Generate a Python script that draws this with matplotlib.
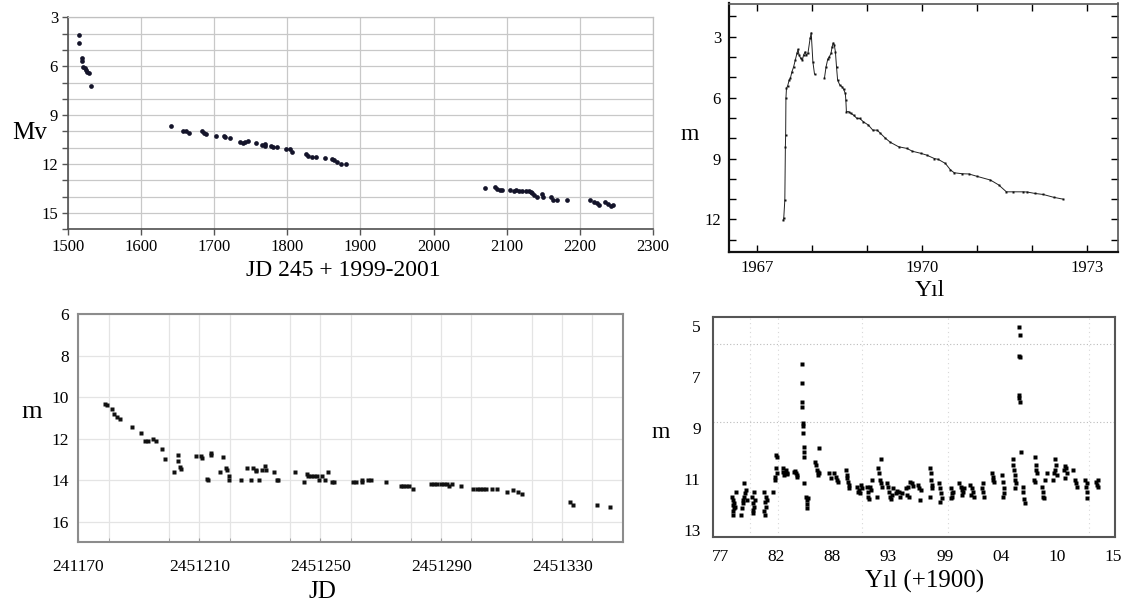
import numpy as np
import matplotlib.pyplot as plt
from matplotlib.ticker import FixedLocator, MultipleLocator

plt.rcParams['font.family'] = ['Liberation Serif', 'DejaVu Serif']

W, H = 1130, 605

# ---- sol ust: JD 245 + (1999-2001), mutlak parlaklik Mv
jd1 = [1515, 1516, 1520, 1520, 1521, 1523, 1525, 1527, 1529, 1532,
       1641, 1657, 1662, 1666, 1683, 1686, 1689, 1703, 1713, 1715, 1722,
       1736, 1739, 1742, 1746, 1757, 1765, 1769, 1770, 1778, 1781, 1786,
       1799, 1804, 1807, 1826, 1829, 1834, 1839, 1852, 1861, 1864, 1868,
       1874, 1880,
       2071, 2084, 2087, 2091, 2094, 2105, 2110, 2113, 2117, 2121, 2126,
       2130, 2133, 2135, 2138, 2142, 2148, 2149, 2160, 2163, 2169, 2182,
       2214, 2220, 2223, 2226, 2235, 2239, 2242, 2245]
mv1 = [4.09, 4.6, 5.5, 5.7, 6.03, 6.13, 6.23, 6.33, 6.44, 7.2,
       9.69, 9.98, 10.0, 10.1, 10.0, 10.1, 10.18, 10.26, 10.28, 10.36, 10.39,
       10.63, 10.68, 10.65, 10.61, 10.73, 10.8, 10.75, 10.9, 10.9, 10.94, 10.96,
       11.06, 11.1, 11.27, 11.4, 11.5, 11.55, 11.55, 11.6, 11.67, 11.75, 11.9,
       12.0, 12.0,
       13.47, 13.39, 13.5, 13.6, 13.6, 13.6, 13.66, 13.6, 13.66, 13.64, 13.66,
       13.64, 13.7, 13.8, 13.9, 14.0, 13.86, 14.0, 14.0, 14.2, 14.23, 14.2,
       14.2, 14.3, 14.4, 14.5, 14.3, 14.45, 14.56, 14.53]

# ---- sag ust: 1967-1973 isik egrisi (nan = gozlem boslugu)
yil2 = [1967.47, 1967.48, 1967.50, 1967.51, 1967.515, 1967.52, 1967.53, 1967.55,
        1967.58, 1967.60, 1967.63, 1967.66, 1967.69, 1967.72, 1967.74, 1967.76,
        1967.79, 1967.82, 1967.84, 1967.87, 1967.89, 1967.92, 1967.96, 1967.98,
        1968.01, 1968.04, np.nan,
        1968.22, 1968.25, 1968.28, 1968.31, 1968.34, 1968.36, 1968.38, 1968.40,
        1968.42, 1968.44, 1968.46, 1968.50, 1968.54, 1968.57, 1968.60, 1968.61,
        1968.62, 1968.66, 1968.70, 1968.75, 1968.81, 1968.86, 1968.93, 1969.02,
        1969.10, 1969.18, 1969.24, 1969.33, 1969.42, 1969.57, 1969.72, 1969.82,
        1969.97, 1970.08, 1970.22, 1970.29, 1970.42, 1970.51, 1970.58, 1970.73,
        1970.85, 1971.00, 1971.24, 1971.39, 1971.53, 1971.65, 1971.83, 1971.91,
        1972.05, 1972.20, 1972.39, 1972.56]
m2 = [12.03, 11.95, 11.04, 8.42, 7.84, 6.03, 5.54, 5.43,
      5.13, 5.05, 4.72, 4.48, 4.15, 3.82, 3.62, 3.90,
      4.07, 4.15, 3.90, 3.74, 3.90, 3.82, 3.08, 2.80,
      4.23, 4.84, np.nan,
      5.05, 4.48, 4.11, 3.98, 3.82, 3.49, 3.30, 3.41,
      3.74, 4.48, 5.13, 5.38, 5.46, 5.59, 5.79, 6.12,
      6.69, 6.69, 6.77, 6.86, 7.02, 7.02, 7.19, 7.35,
      7.60, 7.60, 7.76, 8.00, 8.20, 8.42, 8.50, 8.64,
      8.74, 8.83, 9.00, 9.04, 9.24, 9.55, 9.70, 9.75,
      9.76, 9.88, 10.06, 10.30, 10.64, 10.64, 10.64, 10.65,
      10.72, 10.77, 10.91, 11.00]

# ---- sol alt: JD 2451170 - 2451350
jd3 = [2451178.8, 2451179.6, 2451181.0, 2451181.9, 2451182.9, 2451183.8,
       2451187.9, 2451190.8, 2451192.0, 2451192.9, 2451194.8, 2451195.7,
       2451197.8, 2451198.7, 2451201.7, 2451202.9, 2451202.9, 2451203.6,
       2451203.9, 2451208.9, 2451210.6, 2451210.8, 2451212.6, 2451213.0,
       2451213.8, 2451213.8, 2451216.8, 2451217.7, 2451218.8, 2451219.3,
       2451219.9, 2451219.9, 2451223.7, 2451225.9, 2451227.0, 2451227.9,
       2451228.6, 2451228.7, 2451229.8, 2451230.9, 2451231.7, 2451232.0,
       2451234.7, 2451235.6, 2451236.1, 2451241.6, 2451244.6, 2451245.5,
       2451246.0, 2451246.9, 2451247.9, 2451248.8, 2451249.7, 2451250.5,
       2451251.6, 2451252.6, 2451253.8, 2451254.6,
       2451260.7, 2451261.7, 2451263.7, 2451263.9, 2451265.9, 2451266.8,
       2451271.7, 2451276.6, 2451277.4, 2451278.3, 2451279.3, 2451280.7,
       2451286.5, 2451287.6, 2451288.7, 2451289.8, 2451290.9, 2451291.8,
       2451292.7, 2451293.5, 2451296.7, 2451300.6, 2451301.7, 2451302.8,
       2451303.7, 2451304.7, 2451306.7, 2451308.5, 2451311.6, 2451313.6,
       2451315.5, 2451316.6, 2451332.5, 2451333.6, 2451341.6, 2451345.8]
m3 = [10.36, 10.40, 10.60, 10.80, 10.96, 11.08,
      11.44, 11.73, 12.11, 12.11, 12.00, 12.11,
      12.49, 13.00, 13.60, 12.80, 13.10, 13.36,
      13.48, 12.83, 12.83, 12.93, 13.95, 14.00,
      12.72, 12.80, 13.60, 12.90, 13.43, 13.50,
      13.80, 14.00, 14.00, 13.40, 14.00, 13.40,
      13.50, 13.55, 14.00, 13.50, 13.30, 13.50,
      13.60, 14.00, 14.00, 13.60, 14.10, 13.70,
      13.79, 13.79, 13.79, 13.79, 14.00, 13.79,
      14.00, 13.60, 14.10, 14.10,
      14.10, 14.10, 14.01, 14.10, 14.00, 14.00,
      14.10, 14.28, 14.28, 14.28, 14.28, 14.41,
      14.19, 14.19, 14.19, 14.19, 14.19, 14.19,
      14.28, 14.19, 14.28, 14.41, 14.41, 14.41,
      14.41, 14.41, 14.41, 14.41, 14.59, 14.47,
      14.59, 14.68, 15.08, 15.19, 15.19, 15.30]

# ---- sag alt: 1977-2015 (yil), her satir bir gozlem sezonu
yil4 = [1978.13, 1978.29, 1978.38, 1978.22, 1978.35, 1978.29, 1978.45, 1978.29, 1978.55,
        1979.00, 1979.09, 1979.25, 1979.32, 1979.42, 1979.35, 1979.51, 1979.19, 1979.58,
        1980.06, 1980.16, 1980.29, 1980.38, 1980.22, 1980.32, 1980.22,
        1981.28, 1981.41, 1981.35, 1981.44, 1981.35, 1981.51, 1981.28,
        1982.15, 1982.31, 1982.41, 1982.48, 1982.41, 1982.54, 1982.35,
        1983.05, 1983.18, 1983.28, 1983.44, 1983.12, 1983.38, 1983.51,
        1984.18, 1984.34, 1984.41, 1984.25, 1984.47,
        1984.89, 1984.92, 1984.95, 1984.95, 1984.99, 1985.02, 1985.05, 1985.08,
        1985.12, 1985.12, 1985.15, 1985.31, 1985.37, 1985.44, 1985.37, 1985.53,
        1986.18, 1986.28, 1986.34, 1986.44, 1986.50, 1986.60, 1986.57,
        1987.53, 1987.69, 1988.05, 1988.18, 1988.34, 1988.43,
        1989.14, 1989.24, 1989.30, 1989.40, 1989.46, 1989.50,
        1990.27, 1990.37, 1990.46, 1990.62, 1990.69, 1990.53,
        1991.17, 1991.27, 1991.33, 1991.43, 1991.56, 1991.49, 1991.65,
        1992.30, 1992.39, 1992.46, 1992.52, 1992.62, 1992.20, 1992.52,
        1993.17, 1993.26, 1993.36, 1993.43, 1993.49, 1993.59, 1993.68,
        1994.00, 1994.13, 1994.33, 1994.55, 1994.39,
        1994.97, 1995.10, 1995.20, 1995.36, 1995.52, 1995.62, 1995.29,
        1996.16, 1996.26, 1996.39, 1996.32,
        1997.29, 1997.35, 1997.42, 1997.48, 1997.29, 1997.52,
        1998.16, 1998.26, 1998.32, 1998.42, 1998.22,
        1999.29, 1999.38, 1999.45, 1999.32, 1999.48,
        2000.12, 2000.25, 2000.35, 2000.51, 2000.61, 2000.41,
        2001.15, 2001.32, 2001.41, 2001.54, 2001.22,
        2002.38, 2002.44, 2002.51, 2002.31,
        2003.31, 2003.41, 2003.47, 2003.35,
        2004.28, 2004.38, 2004.44, 2004.31, 2004.41,
        2005.28, 2005.34, 2005.41, 2005.47, 2005.53, 2005.60, 2005.50,
        2005.92, 2005.95, 2005.92, 2005.95, 2005.92, 2005.92, 2005.99, 2006.05,
        2006.24, 2006.31, 2006.37, 2006.44,
        2007.43, 2007.50, 2007.53, 2007.34, 2007.43, 2007.60,
        2008.08, 2008.18, 2008.24, 2008.30, 2008.40, 2008.56,
        2009.21, 2009.30, 2009.40, 2009.37, 2009.46, 2009.53,
        2010.24, 2010.33, 2010.43, 2010.49, 2010.37,
        2011.14, 2011.30, 2011.40, 2011.46,
        2012.27, 2012.36, 2012.43, 2012.49, 2012.43,
        2013.33, 2013.39, 2013.49, 2013.55]
m4 = [11.69, 11.82, 11.95, 12.02, 12.15, 12.24, 12.08, 12.41, 11.50,
      12.41, 12.15, 11.82, 11.69, 11.56, 11.17, 11.43, 11.95, 11.82,
      11.69, 11.95, 12.08, 11.82, 12.22, 11.50, 12.35,
      11.50, 11.69, 11.89, 12.08, 12.41, 11.82, 12.24,
      11.50, 11.04, 10.58, 10.12, 10.06, 10.78, 10.91,
      10.71, 10.84, 10.78, 10.80, 10.58, 10.65, 10.75,
      10.71, 10.78, 10.84, 10.67, 10.91,
      6.50, 7.25, 7.97, 8.16, 8.82, 8.92, 9.21, 9.73,
      9.93, 10.12, 11.14, 11.69, 11.82, 11.98, 12.15, 11.76,
      10.35, 10.45, 10.65, 10.71, 10.84, 10.78, 9.80,
      10.78, 10.97, 10.78, 10.91, 11.04, 11.10,
      10.65, 10.84, 10.97, 11.10, 11.37, 11.24,
      11.30, 11.50, 11.43, 11.24, 11.37, 11.56,
      11.33, 11.50, 11.69, 11.80, 11.43, 11.30, 11.04,
      10.58, 10.78, 11.04, 11.14, 11.30, 11.69, 10.23,
      11.14, 11.30, 11.50, 11.69, 11.80, 11.63, 11.37,
      11.56, 11.46, 11.50, 11.56, 11.69,
      11.37, 11.63, 11.30, 11.10, 11.17, 11.27, 11.69,
      11.24, 11.37, 11.43, 11.82,
      10.58, 10.78, 11.04, 11.24, 11.69, 11.37,
      11.17, 11.37, 11.56, 11.76, 11.89,
      11.37, 11.56, 11.69, 11.76, 11.50,
      11.17, 11.30, 11.43, 11.50, 11.37, 11.63,
      11.24, 11.37, 11.50, 11.69, 11.63,
      11.17, 11.50, 11.69, 11.37,
      10.78, 11.04, 11.10, 10.91,
      10.84, 11.10, 11.37, 11.69, 11.56,
      10.23, 10.45, 10.65, 10.84, 11.04, 11.17, 11.37,
      5.03, 5.35, 6.18, 6.20, 7.71, 7.84, 7.99, 9.93,
      11.30, 11.50, 11.80, 11.95,
      10.12, 10.45, 10.65, 11.04, 11.10, 10.78,
      11.30, 11.50, 11.69, 11.76, 11.04, 10.78,
      11.04, 10.78, 10.65, 10.23, 10.45, 10.84,
      10.65, 10.49, 10.58, 10.78, 10.97,
      10.65, 11.04, 11.17, 11.30,
      11.04, 11.30, 11.50, 11.76, 11.17,
      11.10, 11.24, 11.30, 11.04]

jd3_ticks = [2451170, 2451210, 2451250, 2451290, 2451330]
jd3_labels = ['241170', '2451210', '2451250', '2451290', '2451330']
yil4_ticks = np.linspace(1977, 2015, 8)
yil4_labels = ['77', '82', '88', '93', '99', '04', '10', '15']


def box(l, t, r, b):
    # piksel kutusunu figure koordinatina cevir
    return [l / W, 1 - b / H, (r - l) / W, (b - t) / H]


def label(x, y, s, size):
    fig.text(x / W, 1 - y / H, s, ha='center', va='center', fontsize=size)


fig = plt.figure(figsize=(W / 100, H / 100), dpi=100)

# ===== 1
ax1 = fig.add_axes(box(67.7, 17.3, 653, 229.3))
ax1.plot(jd1, mv1, 'o', color='#14142a', ms=3.4, mec='none')
ax1.set_xlim(1500, 2300)
ax1.set_ylim(16, 3)
ax1.xaxis.set_major_locator(MultipleLocator(100))
ax1.yaxis.set_major_locator(FixedLocator([3, 6, 9, 12, 15]))
ax1.yaxis.set_minor_locator(MultipleLocator(1))
ax1.grid(True, which='both', color='#c8c8c8', lw=0.9)
ax1.set_axisbelow(True)
ax1.tick_params(which='both', direction='out', length=4, width=1, color='#555555',
                labelsize=12, pad=3)
for s in ['top', 'right']:
    ax1.spines[s].set_color('#c0c0c0')
    ax1.spines[s].set_linewidth(0.9)
for s in ['left', 'bottom']:
    ax1.spines[s].set_color('#505050')
    ax1.spines[s].set_linewidth(1.2)
label(30, 133, 'Mv', 18)
label(343, 270, 'JD 245 + 1999-2001', 17)

# ===== 2
ax2 = fig.add_axes(box(729.3, 3.5, 1118, 251.7))
ax2.plot(yil2, m2, '-', color='#222222', lw=0.7)
ax2.plot(yil2, m2, 's', color='#111111', ms=2.0, mec='none')
ax2.set_xlim(1966.49, 1973.56)
ax2.set_ylim(13.59, 1.36)
ax2.xaxis.set_major_locator(FixedLocator([1967, 1970, 1973]))
ax2.xaxis.set_minor_locator(MultipleLocator(1))
ax2.yaxis.set_major_locator(FixedLocator([3, 6, 9, 12]))
ax2.yaxis.set_minor_locator(MultipleLocator(1))
ax2.tick_params(which='both', direction='in', top=True, right=True, length=5,
                width=1, labelsize=12, pad=6)
for s in ['top', 'right']:
    ax2.spines[s].set_color('#555555')
    ax2.spines[s].set_linewidth(1.2)
for s in ['left', 'bottom']:
    ax2.spines[s].set_color('#111111')
    ax2.spines[s].set_linewidth(1.6)
label(690, 135, 'm', 17)
label(930, 290, 'Yıl', 17)

# ===== 3
ax3 = fig.add_axes(box(78.3, 314, 622.7, 542.3))
ax3.plot(jd3, m3, 's', color='#111111', ms=2.2, mec='none')
ax3.set_xlim(2451170, 2451350)
ax3.set_ylim(17, 6)
ax3.xaxis.set_major_locator(FixedLocator(jd3_ticks))
ax3.xaxis.set_ticklabels(jd3_labels)
ax3.xaxis.set_minor_locator(MultipleLocator(20))
ax3.yaxis.set_major_locator(MultipleLocator(2))
ax3.grid(True, which='both', color='#e4e4e4', lw=0.9)
ax3.set_axisbelow(True)
ax3.tick_params(which='both', direction='in', length=3, color='#999999',
                labelsize=12.5, pad=12)
ax3.tick_params(axis='y', which='both', length=0, pad=7)
for s in ax3.spines.values():
    s.set_color('#8c8c8c')
    s.set_linewidth(1.5)
label(32, 412, 'm', 19)
label(322, 592, 'JD', 18)

# ===== 4
ax4 = fig.add_axes(box(713.3, 316.7, 1115, 536.7))
ax4.plot(yil4, m4, 's', color='#000000', ms=2.5, mec='none')
ax4.set_xlim(1976.35, 2015.17)
ax4.set_ylim(13.26, 4.64)
ax4.xaxis.set_major_locator(FixedLocator(yil4_ticks))
ax4.xaxis.set_ticklabels(yil4_labels)
ax4.yaxis.set_major_locator(FixedLocator([5, 7, 9, 11, 13]))
# soluk noktali kilavuz cizgileri
for g in [5.7, 8.75]:
    ax4.axhline(g, color='#bbbbbb', lw=0.8, ls=(0, (1, 2)), zorder=0)
for g in [1979.9, 1982.6, 1990.7, 1999.0, 2012.7]:
    ax4.axvline(g, color='#d8d8d8', lw=0.8, ls=(0, (1, 3)), zorder=0)
ax4.tick_params(which='both', length=0, labelsize=12.5, pad=9)
for s in ax4.spines.values():
    s.set_color('#555555')
    s.set_linewidth(1.5)
label(661, 432, 'm', 17)
label(925, 581, 'Yıl (+1900)', 18)

fig.savefig('out.png', dpi=100)
